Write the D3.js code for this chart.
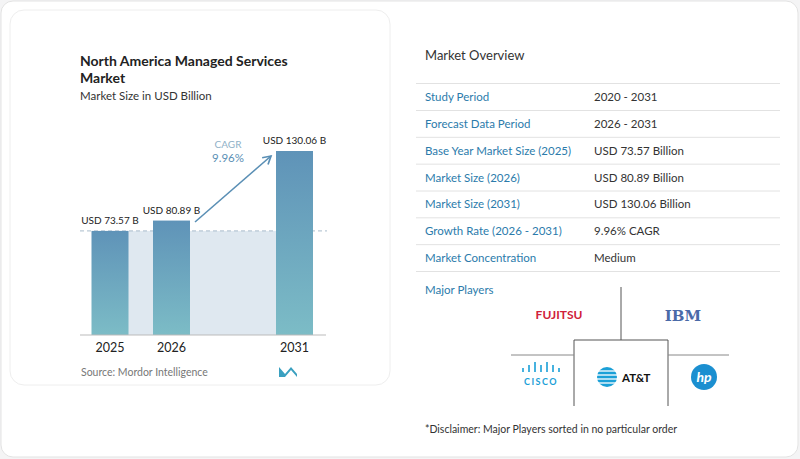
<!DOCTYPE html>
<html><head><meta charset="utf-8">
<script src="https://cdn.jsdelivr.net/npm/d3@7"></script>
<style>body{margin:0;background:#f4f4f5;font-family:Lato,"Noto Sans",sans-serif}</style>
</head><body>
<svg id="c" width="800" height="459"></svg>
<script>
// chart data
var years = ["2025", "2026", "2031"];
var values = [73.57, 80.89, 130.06];
var valueLabels = ["USD 73.57 B", "USD 80.89 B", "USD 130.06 B"];
var rowLabels = ["Study Period", "Forecast Data Period", "Base Year Market Size (2025)", "Market Size (2026)", "Market Size (2031)", "Growth Rate (2026 - 2031)", "Market Concentration"];
var rowValues = ["2020 - 2031", "2026 - 2031", "USD 73.57 Billion", "USD 80.89 Billion", "USD 130.06 Billion", "9.96% CAGR", "Medium"];

var svg = d3.select("#c");
svg.append("rect").attr("width", 800).attr("height", 459).attr("fill", "#f4f4f5");
svg.append("rect").attr("x", 1).attr("y", 1).attr("width", 797).attr("height", 456).attr("rx", 12).attr("fill", "#fff").attr("stroke", "#e3e3e3");
svg.append("rect").attr("x", 10).attr("y", 10).attr("width", 380).attr("height", 375).attr("rx", 14).attr("fill", "#fff").attr("stroke", "#eeeeee");

var defs = svg.append("defs");
var grad = defs.append("linearGradient").attr("id", "bar").attr("x1", 0).attr("y1", 0).attr("x2", 0).attr("y2", 1);
grad.append("stop").attr("offset", "0%").attr("stop-color", "#5f93b8");
grad.append("stop").attr("offset", "100%").attr("stop-color", "#7cbcc6");
defs.append("marker").attr("id", "arr").attr("viewBox", "0 0 10 10").attr("refX", 8).attr("refY", 5)
    .attr("markerWidth", 7).attr("markerHeight", 7).attr("orient", "auto")
    .append("path").attr("d", "M1,1 L8,5 L1,9").attr("fill", "none").attr("stroke", "#5a8fb5").attr("stroke-width", 1.5);

svg.append("text").attr("x", 80).attr("y", 66).text("North America Managed Services").attr("font-size", 14).attr("font-weight", 700).attr("fill", "#222");
svg.append("text").attr("x", 80).attr("y", 83).text("Market").attr("font-size", 14).attr("font-weight", 700).attr("fill", "#222");
svg.append("text").attr("x", 80).attr("y", 100).text("Market Size in USD Billion").attr("font-size", 11.5).attr("fill", "#333");

var x = d3.scaleOrdinal().domain(years).range([110, 171.5, 294.5]);
var y = d3.scaleLinear().domain([0, 130.06]).range([335, 151]);
var bw = 37;

// shaded area at base level
svg.append("rect").attr("x", x(years[0])).attr("y", y(values[0])).attr("width", x(years[2]) - x(years[0]))
    .attr("height", y(0) - y(values[0])).attr("fill", "#dfe8f0");
svg.append("line").attr("x1", 80).attr("x2", 327).attr("y1", y(values[0])).attr("y2", y(values[0]))
    .attr("stroke", "#a9bccb").attr("stroke-dasharray", "4,3");

svg.selectAll(".bar").data(values).enter().append("rect")
    .attr("x", function (d, i) { return x(years[i]) - bw / 2; })
    .attr("y", function (d) { return y(d); })
    .attr("width", bw).attr("height", function (d) { return y(0) - y(d); })
    .attr("fill", "url(#bar)");
svg.append("line").attr("x1", 80).attr("x2", 326).attr("y1", 335).attr("y2", 335).attr("stroke", "#bbb");

svg.selectAll(".vl").data(values).enter().append("text")
    .attr("x", function (d, i) { return x(years[i]); })
    .attr("y", function (d) { return y(d) - 7; })
    .attr("text-anchor", "middle").attr("font-size", 10).attr("fill", "#222")
    .text(function (d, i) { return valueLabels[i]; });
svg.selectAll(".yl").data(years).enter().append("text")
    .attr("x", function (d) { return x(d); }).attr("y", 352)
    .attr("text-anchor", "middle").attr("font-size", 12.5).attr("fill", "#222").text(function (d) { return d; });

svg.append("line").attr("x1", 195).attr("y1", 222).attr("x2", 271).attr("y2", 156)
    .attr("stroke", "#5a8fb5").attr("stroke-width", 1.6).attr("marker-end", "url(#arr)");
svg.append("text").attr("x", 228).attr("y", 148).attr("text-anchor", "middle").attr("font-size", 10).attr("fill", "#8fb1c8").text("CAGR");
svg.append("text").attr("x", 228).attr("y", 162).attr("text-anchor", "middle").attr("font-size", 11.5).attr("fill", "#5a8fb5").text("9.96%");

svg.append("text").attr("x", 81).attr("y", 376).attr("font-size", 10.5).attr("fill", "#777").text("Source:  Mordor Intelligence");
svg.append("path").attr("d", "M279,377 L279,367 L285,374 L291,367 L297,374 L297,367 L297,377 L291,370 L285,377 Z").attr("fill", "#3aa0c0");

// table
svg.append("text").attr("x", 425).attr("y", 60).attr("font-size", 13).attr("fill", "#333").text("Market Overview");
var ty = d3.scaleLinear().domain([0, 6]).range([97, 258]);
rowLabels.forEach(function (l, i) {
    svg.append("text").attr("x", 425).attr("y", ty(i) + 4).attr("font-size", 11.5).attr("fill", "#2b7bab").text(l);
    svg.append("text").attr("x", 594).attr("y", ty(i) + 4).attr("font-size", 11.5).attr("fill", "#333").text(rowValues[i]);
    svg.append("line").attr("x1", 416).attr("x2", 780).attr("y1", ty(i) + 13.5).attr("y2", ty(i) + 13.5).attr("stroke", "#e2e2e2");
});
svg.append("line").attr("x1", 416).attr("x2", 780).attr("y1", 83.5).attr("y2", 83.5).attr("stroke", "#e2e2e2");
svg.append("text").attr("x", 425).attr("y", 294).attr("font-size", 11.5).attr("fill", "#2b7bab").text("Major Players");

// logo grid
var g = svg.append("g").attr("stroke", "#555").attr("fill", "none");
g.append("line").attr("x1", 621).attr("x2", 621).attr("y1", 287).attr("y2", 340);
g.append("path").attr("d", "M574,406 L574,340 L668,340 L668,406");
g.append("line").attr("x1", 511).attr("x2", 574).attr("y1", 355).attr("y2", 355).attr("stroke", "#888");
g.append("line").attr("x1", 668).attr("x2", 729).attr("y1", 355).attr("y2", 355).attr("stroke", "#888");

svg.append("text").attr("x", 559).attr("y", 319).attr("text-anchor", "middle").attr("font-size", 12).attr("font-weight", 700).attr("fill", "#d0213a").text("FUJITSU");
svg.append("text").attr("x", 683).attr("y", 321).attr("text-anchor", "middle").attr("font-size", 15).attr("font-weight", 700).attr("fill", "#4a6aa8").attr("font-family", "DejaVu Serif").text("IBM");
var ci = svg.append("g").attr("fill", "#1ba0d7");
[-18, -12, -6, 0, 6, 12, 18].forEach(function (dx, i) {
    var h = [4, 7, 10, 7, 10, 7, 4][i];
    ci.append("rect").attr("x", 541 + dx - 0.8).attr("y", 372 - h).attr("width", 1.6).attr("height", h);
});
svg.append("text").attr("x", 541).attr("y", 385).attr("text-anchor", "middle").attr("font-size", 9).attr("font-weight", 700).attr("letter-spacing", 1.5).attr("fill", "#1ba0d7").text("CISCO");
svg.append("circle").attr("cx", 607).attr("cy", 377).attr("r", 10).attr("fill", "#1ba0d7");
[371, 375, 379, 383].forEach(function (yy) {
    svg.append("line").attr("x1", 596).attr("x2", 618).attr("y1", yy).attr("y2", yy).attr("stroke", "#fff").attr("stroke-width", 1.3);
});
svg.append("text").attr("x", 622).attr("y", 381.5).attr("font-size", 11.5).attr("font-weight", 700).attr("fill", "#111").text("AT&T");
svg.append("circle").attr("cx", 704).attr("cy", 377).attr("r", 13).attr("fill", "#1b8fd0");
svg.append("text").attr("x", 704).attr("y", 382).attr("text-anchor", "middle").attr("font-size", 14).attr("font-style", "italic").attr("font-weight", 700).attr("fill", "#fff").text("hp");

svg.append("text").attr("x", 425).attr("y", 433).attr("font-size", 10.5).attr("fill", "#333").text("*Disclaimer: Major Players sorted in no particular order");
</script>
</body></html>
